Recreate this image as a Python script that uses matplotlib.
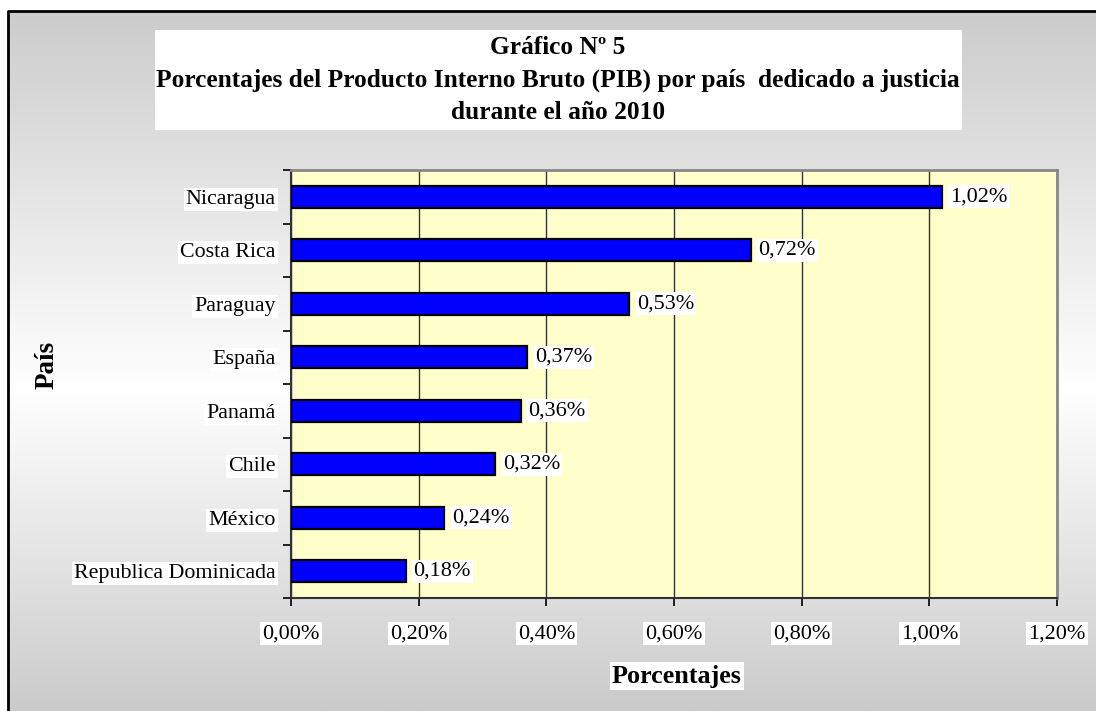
import matplotlib
matplotlib.use('Agg')
import matplotlib.pyplot as plt
import matplotlib.patches as patches
from matplotlib.lines import Line2D
from matplotlib.colors import LinearSegmentedColormap
import numpy as np

# Data (percent of GDP)
paises = ['Nicaragua', 'Costa Rica', 'Paraguay', 'España', 'Panamá',
          'Chile', 'México', 'Republica Dominicada']
porcentajes = [1.02, 0.72, 0.53, 0.37, 0.36, 0.32, 0.24, 0.18]
x_ticks = [0.0, 0.2, 0.4, 0.6, 0.8, 1.0, 1.2]

titulo = 'Gráfico Nº 5\nPorcentajes del Producto Interno Bruto (PIB) por país  dedicado a justicia\ndurante el año 2010'

plt.rcParams['font.family'] = ['Liberation Serif', 'DejaVu Serif']

W, H = 1096, 711
fig = plt.figure(figsize=(W / 100, H / 100), dpi=100)
fig.patch.set_facecolor('white')

# gradient background (gray - white - gray)
bg = fig.add_axes([8 / W, 0, 1, 1 - 11 / H], zorder=-10)
cmap = LinearSegmentedColormap.from_list('bg', [(0, '#cbcbcb'), (0.46, '#ffffff'), (1, '#cccccc')])
grad = np.linspace(1, 0, 256).reshape(-1, 1)
bg.imshow(grad, aspect='auto', cmap=cmap, extent=[0, 1, 0, 1])
bg.set_axis_off()

# outer frame (only left and top visible, chart is cropped)
fig.lines.append(Line2D([8 / W, 8 / W, 1.0], [0, 1 - 11 / H, 1 - 11 / H],
                        transform=fig.transFigure, color='black', linewidth=2))

# title box
fig.patches.append(patches.Rectangle((155 / W, 1 - 130 / H), (962 - 155) / W, 100 / H,
                                     transform=fig.transFigure, facecolor='white',
                                     edgecolor='none', zorder=1))
fig.text(558 / W, 1 - 80 / H, titulo, ha='center', va='center', fontsize=18.3,
         fontweight='bold', linespacing=1.52, zorder=2)

ax = fig.add_axes([291 / W, 1 - 598 / H, (1057 - 291) / W, (598 - 170) / H])
ax.set_facecolor('#FFFFCC')

y = np.arange(len(paises))
bars = ax.barh(y, porcentajes, height=0.41, color='#0000FF', edgecolor='black',
               linewidth=1.6, zorder=3)
ax.set_xlim(0, 1.2)
ax.set_ylim(len(paises) - 0.5, -0.5)

# value labels
for b, v in zip(bars, porcentajes):
    ax.text(v + 0.012, b.get_y() + b.get_height() / 2, f'{v:.2f}%'.replace('.', ','),
            va='center', ha='left', fontsize=16, zorder=4,
            bbox=dict(facecolor='white', edgecolor='none', pad=1.5))

# x axis
ax.set_xticks(x_ticks)
ax.set_xticklabels([f'{t:.2f}%'.replace('.', ',') for t in x_ticks], fontsize=16)
for lbl in ax.get_xticklabels():
    lbl.set_bbox(dict(facecolor='white', edgecolor='none', pad=1.5))
ax.tick_params(axis='x', direction='out', length=6, width=1.2, pad=13)
ax.grid(axis='x', color='#333333', linewidth=1, zorder=1)
ax.set_axisbelow(True)

# y axis: ticks between categories, labels at centers
ax.set_yticks(np.arange(-0.5, len(paises), 1))
ax.set_yticklabels([])
ax.tick_params(axis='y', which='major', direction='out', length=6, width=1.2)
ax.set_yticks(y, minor=True)
ax.set_yticklabels(paises, minor=True, fontsize=15.8)
ax.tick_params(axis='y', which='minor', length=0, pad=11)
for lbl in ax.get_yticklabels(minor=True):
    lbl.set_bbox(dict(facecolor='white', edgecolor='none', pad=1.5))

for side in ['top', 'right']:
    ax.spines[side].set_color('#888888')
    ax.spines[side].set_linewidth(2)
for side in ['left', 'bottom']:
    ax.spines[side].set_color('#333333')
    ax.spines[side].set_linewidth(1.5)

fig.text(677 / W, 1 - 676 / H, 'Porcentajes', ha='center', va='center',
         fontsize=18.8, fontweight='bold',
         bbox=dict(facecolor='white', edgecolor='none', pad=1.5))
fig.text(47 / W, 1 - 365 / H, 'País', ha='center', va='center', rotation=90,
         fontsize=19.5, fontweight='bold')

fig.savefig('out.png', dpi=100)
